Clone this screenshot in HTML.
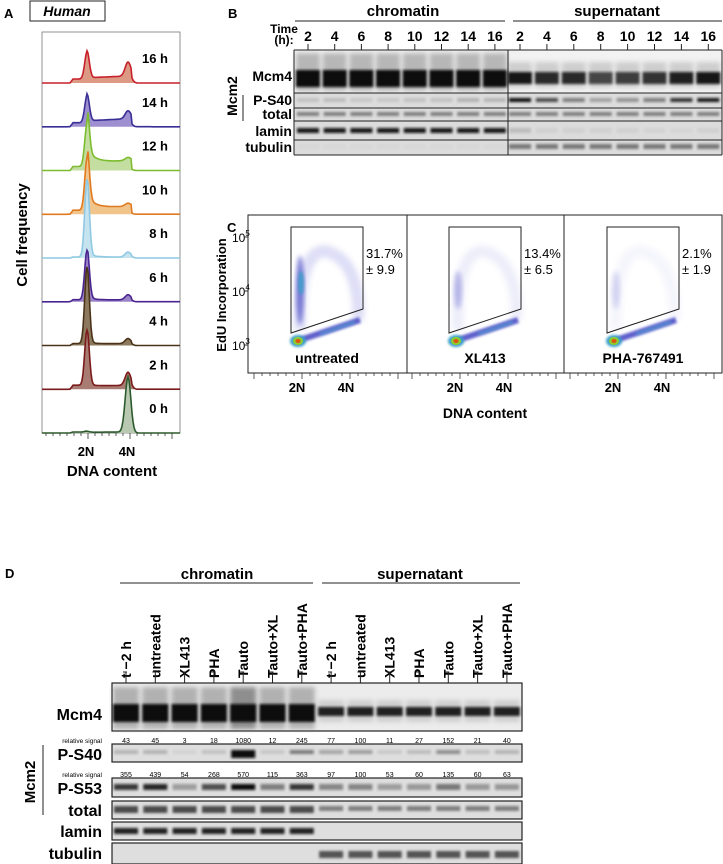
<!DOCTYPE html>
<html><head><meta charset="utf-8"><style>
html,body{margin:0;padding:0;background:#fff;}
svg{display:block;font-family:"Liberation Sans",Arial,sans-serif;}
</style></head><body>
<svg id="fig" width="723" height="864" viewBox="0 0 723 864" xmlns="http://www.w3.org/2000/svg">
<defs>
<filter id="b1" x="-20%" y="-60%" width="140%" height="220%"><feGaussianBlur stdDeviation="1.2"/></filter>
<filter id="b2" x="-30%" y="-60%" width="160%" height="220%"><feGaussianBlur stdDeviation="2.5"/></filter>
<filter id="b3" x="-50%" y="-50%" width="200%" height="200%"><feGaussianBlur stdDeviation="3"/></filter>
</defs>
<!-- Panel A -->
<g id="panelA">
<text x="4" y="18" font-weight="bold" font-size="13">A</text>
<rect x="30" y="1" width="75" height="20" fill="none" stroke="#222" stroke-width="1"/>
<text x="67" y="16" font-weight="bold" font-style="italic" font-size="14" text-anchor="middle">Human</text>
<rect x="42" y="32" width="138" height="401" fill="none" stroke="#777" stroke-width="0.8"/>
<g id="histos"></g>
<g id="aticks"></g>
<text x="86" y="456" font-weight="bold" font-size="13" text-anchor="middle">2N</text>
<text x="127" y="456" font-weight="bold" font-size="13" text-anchor="middle">4N</text>
<text x="112" y="476" font-weight="bold" font-size="15" text-anchor="middle">DNA content</text>
<text transform="translate(27,235) rotate(-90)" font-weight="bold" font-size="15" text-anchor="middle">Cell frequency</text>
</g>
<!-- Panel B -->
<g id="panelB">
<text x="228" y="18" font-weight="bold" font-size="13">B</text>
<text x="403" y="16" font-weight="bold" font-size="15" text-anchor="middle">chromatin</text>
<line x1="295" y1="21" x2="505" y2="21" stroke="#222" stroke-width="1"/>
<text x="617" y="16" font-weight="bold" font-size="15" text-anchor="middle">supernatant</text>
<line x1="513" y1="21" x2="722" y2="21" stroke="#222" stroke-width="1"/>
<text x="284" y="33" font-weight="bold" font-size="12" text-anchor="middle">Time</text>
<text x="284" y="44" font-weight="bold" font-size="12" text-anchor="middle">(h):</text>
<g id="bLanes"></g>
<g id="bGel"></g>
<g font-weight="bold" font-size="14" text-anchor="end">
<text x="292" y="81">Mcm4</text>
<text x="292" y="105">P-S40</text>
<text x="292" y="119">total</text>
<text x="292" y="136">lamin</text>
<text x="292" y="152">tubulin</text>
</g>
<line x1="243" y1="95" x2="243" y2="121" stroke="#222" stroke-width="1"/>
<text transform="translate(237,96) rotate(-90)" font-weight="bold" font-size="14" text-anchor="middle">Mcm2</text>
</g>
<!-- Panel C -->
<g id="panelC">
<text x="227" y="232" font-weight="bold" font-size="13">C</text>
<rect x="248" y="215" width="474" height="158" fill="none" stroke="#222" stroke-width="1"/>
<line x1="407" y1="215" x2="407" y2="373" stroke="#222" stroke-width="1"/>
<line x1="564" y1="215" x2="564" y2="373" stroke="#222" stroke-width="1"/>
<g id="cPlots"></g>
<g id="cTicks"></g>
<text transform="translate(226,295) rotate(-90)" font-weight="bold" font-size="13" text-anchor="middle">EdU Incorporation</text>
<text x="485" y="418" font-weight="bold" font-size="14" text-anchor="middle">DNA content</text>
</g>
<!-- Panel D -->
<g id="panelD">
<text x="5" y="578" font-weight="bold" font-size="13">D</text>
<text x="217" y="579" font-weight="bold" font-size="15" text-anchor="middle">chromatin</text>
<line x1="120" y1="583" x2="313" y2="583" stroke="#222" stroke-width="1"/>
<text x="420" y="579" font-weight="bold" font-size="15" text-anchor="middle">supernatant</text>
<line x1="322" y1="583" x2="520" y2="583" stroke="#222" stroke-width="1"/>
<g id="dLanes"></g>
<g id="dGel"></g>
<g font-weight="bold" text-anchor="end">
<text x="102" y="720" font-size="16">Mcm4</text>
<text x="102" y="743" font-size="6.5" font-weight="normal">relative signal</text>
<text x="102" y="760" font-size="16">P-S40</text>
<text x="102" y="777" font-size="6.5" font-weight="normal">relative signal</text>
<text x="102" y="794" font-size="16">P-S53</text>
<text x="102" y="816" font-size="16">total</text>
<text x="102" y="837" font-size="16">lamin</text>
<text x="102" y="859" font-size="16">tubulin</text>
</g>
<line x1="43" y1="745" x2="43" y2="815" stroke="#222" stroke-width="1"/>
<text transform="translate(35,782) rotate(-90)" font-weight="bold" font-size="15" text-anchor="middle">Mcm2</text>
</g>
</svg>
<script>
// ===== Panel A data =====
const aRows = ["16 h","14 h","12 h","10 h","8 h","6 h","4 h","2 h","0 h"];
const aPeak2N = [27,27,42,51,78,50,77,56,1];
const aPeak4N = [14,8,3,3,5,5,5,13,55];
const aSLevel = [7,8,10,8,1,2,2,4,1];
const aTail = [0,0,14,12,3,3,2,2,0];
const aLine = ["#c8202a","#3a2f96","#7cbc2e","#e07a20","#8fc9e3","#4a2590","#4a3318","#7a1a1a","#2c5a2c"];
const aFill = ["#dc9a84","#9d8fd0","#c4dea2","#f1c48c","#c6e3f0","#9a84c8","#8d7a5e","#a87c72","#b9c9b1"];
// ===== Panel B data =====
const bTimes = ["2","4","6","8","10","12","14","16"];
const bChromS40 = [0.12,0.15,0.1,0.1,0.12,0.12,0.2,0.18];
const bSupS40 = [1.0,0.7,0.45,0.28,0.35,0.45,0.82,0.95];
const bSupMcm4 = [0.95,0.85,0.85,0.7,0.75,0.8,0.9,0.95];
const bSupLamin = [0.15,0.05,0.05,0.05,0.05,0.04,0.03,0.05];
// ===== Panel C data =====
const cNames = ["untreated","XL413","PHA-767491"];
const cPct = ["31.7%","13.4%","2.1%"];
const cSd = ["\u00b1 9.9","\u00b1 6.5","\u00b1 1.9"];
const cArmDensity = [0.9,0.45,0.25];
const cYTicks = ["5","4","3"];
// ===== Panel D data =====
const dLanes = ["t \u22122 h","untreated","XL413","PHA","Tauto","Tauto+XL","Tauto+PHA","t \u22122 h","untreated","XL413","PHA","Tauto","Tauto+XL","Tauto+PHA"];
const dRelS40 = [43,45,3,18,1080,12,245,77,100,11,27,152,21,40];
const dRelS53 = [355,439,54,268,570,115,363,97,100,53,60,135,60,63];

const NS="http://www.w3.org/2000/svg";
function mk(tag, parent, attrs){const e=document.createElementNS(NS,tag);for(const k in attrs)e.setAttribute(k,attrs[k]);parent.appendChild(e);return e;}

// ---- Panel A ----
const histos=document.getElementById('histos');
const ax2N=87, ax4N=128, axL=42, axR=180, baseTop=83, rowGap=43.75;
for(let r=0;r<aRows.length;r++){
  const base=baseTop+r*rowGap;
  let pts=[];
  for(let x=axL;x<=axR;x+=1){
    let y=0;
    y+=aPeak2N[r]*Math.exp(-Math.pow((x-ax2N)/3.2,2));
    if(x>ax2N) y+=aTail[r]*Math.exp(-(x-ax2N)/8);
    if(x>=ax2N && x<=ax4N+3) y+=aSLevel[r]*(0.75+0.25*(x-ax2N)/(ax4N-ax2N));
    y+=aPeak4N[r]*Math.exp(-Math.pow((x-ax4N)/4,2));
    if(x>70 && x<ax2N) y+=Math.min(aSLevel[r],4)*Math.min(1,(x-70)/3);
    pts.push([x,base-y]);
  }
  const d='M'+pts.map(p=>p[0]+','+p[1].toFixed(1)).join(' L');
  const g=mk('g',histos,{});
  
  
  mk('path',g,{d:d+` L${axR},${base} L${axL},${base} Z`,fill:aFill[r],stroke:'none'});
  mk('path',g,{d:d,fill:'none',stroke:aLine[r],'stroke-width':1.6});
  const t=mk('text',g,{x:168,y:base-20,'font-weight':'bold','font-size':13,'text-anchor':'end'});
  t.textContent=aRows[r];
}
const aticks=document.getElementById('aticks');
for(let x=46;x<=178;x+=7){mk('line',aticks,{x1:x,y1:433,x2:x,y2:(x===88||x===130||x===172)?439:436,stroke:'#333','stroke-width':0.8});}

// ---- Panel B ----
const bL=document.getElementById('bLanes'), bG=document.getElementById('bGel');
function bx(i,sup){return sup?520+26.9*i:308+26.7*i;}
for(let s=0;s<2;s++){for(let i=0;i<bTimes.length;i++){
  const x=bx(i,s);
  const t=mk('text',bL,{x:x,y:41,'font-weight':'bold','font-size':14,'text-anchor':'middle'});
  
  
  t.textContent=bTimes[i];
  mk('line',bL,{x1:x,y1:44,x2:x,y2:50,stroke:'#222','stroke-width':1});
}}
mk('rect',bG,{x:294,y:50,width:428,height:105,fill:'#dcdcdc'});
mk('rect',bG,{x:294,y:50,width:428,height:43,fill:'#f2f2f2'});
for(let s=0;s<2;s++){for(let i=0;i<8;i++){
  const x=bx(i,s);
  if(!s){
    mk('rect',bG,{x:x-12,y:53,width:24,height:38,fill:'#888',opacity:0.55,filter:'url(#b2)'});
    mk('rect',bG,{x:x-12,y:70,width:24,height:17,fill:'#111',filter:'url(#b1)'});
  } else {
    mk('rect',bG,{x:x-12,y:62,width:24,height:26,fill:'#999',opacity:0.4,filter:'url(#b2)'});
    mk('rect',bG,{x:x-12,y:72,width:24,height:12,fill:'#111',opacity:bSupMcm4[i],filter:'url(#b1)'});
  }
  const v=s?bSupS40[i]:bChromS40[i];
  mk('rect',bG,{x:x-11,y:98,width:22,height:4,fill:'#111',opacity:v,filter:'url(#b1)'});
  mk('rect',bG,{x:x-11,y:112,width:22,height:4,fill:'#444',opacity:0.6,filter:'url(#b1)'});
  mk('rect',bG,{x:x-11,y:128,width:22,height:5,fill:'#111',opacity:s?bSupLamin[i]:0.95,filter:'url(#b1)'});
  mk('rect',bG,{x:x-11,y:144,width:22,height:5,fill:'#444',opacity:s?0.65:0.03,filter:'url(#b1)'});
}}
for(const y of [50,93,108,121,140,155]) mk('line',bG,{x1:294,y1:y,x2:722,y2:y,stroke:'#222','stroke-width':1});
for(const x of [294,508,722]) mk('line',bG,{x1:x,y1:50,x2:x,y2:155,stroke:'#222','stroke-width':1});

// ---- Panel C ----
const cP=document.getElementById('cPlots'), cT=document.getElementById('cTicks');
for(let k=0;k<3;k++){
  const o=k*158;
  const g=mk('g',cP,{});
  
  
  const a=cArmDensity[k];
  mk('path',g,{d:`M${300+o},330 C${298+o},250 ${320+o},245 ${335+o},255 C${355+o},265 ${360+o},300 ${358+o},320`,fill:'none',stroke:'#4a4ad0','stroke-width':12,opacity:a*0.2,filter:'url(#b3)'});
  mk('ellipse',g,{cx:300+o,cy:290,rx:4,ry:38*Math.max(a,0.5),fill:'#3838c0',opacity:a*0.7,filter:'url(#b2)'});
  if(k===0) mk('ellipse',g,{cx:301+o,cy:283,rx:3,ry:12,fill:'#3aa0c8',opacity:0.8,filter:'url(#b1)'});
  mk('path',g,{d:`M${300+o},340 L${360+o},320`,stroke:'#3838c0','stroke-width':6,opacity:0.8,filter:'url(#b1)'});
  mk('path',g,{d:`M${320+o},334 L${355+o},322`,stroke:'#4aa8d0','stroke-width':3,opacity:0.6,filter:'url(#b1)'});
  mk('ellipse',g,{cx:298+o,cy:341,rx:8,ry:6,fill:'#3aa0c8',filter:'url(#b1)'});
  mk('ellipse',g,{cx:298+o,cy:341,rx:5,ry:4,fill:'#8ccc30'});
  mk('ellipse',g,{cx:298+o,cy:341,rx:2.5,ry:2,fill:'#e05010'});
  mk('path',g,{d:`M${291+o},227 L${363+o},227 L${363+o},309 L${291+o},333 Z`,fill:'none',stroke:'#222','stroke-width':1});
  let t=mk('text',g,{x:366+o,y:258,'font-size':13});t.textContent=cPct[k];
  t=mk('text',g,{x:366+o,y:274,'font-size':13});t.textContent=cSd[k];
  t=mk('text',g,{x:327+o,y:363,'font-weight':'bold','font-size':14,'text-anchor':'middle'});t.textContent=cNames[k];
  t=mk('text',cT,{x:297+o,y:392,'font-weight':'bold','font-size':13,'text-anchor':'middle'});t.textContent='2N';
  t=mk('text',cT,{x:346+o,y:392,'font-weight':'bold','font-size':13,'text-anchor':'middle'});t.textContent='4N';
  for(let x=254+o;x<404+o;x+=8) mk('line',cT,{x1:x,y1:373,x2:x,y2:(x-254-o)%48===0?379:376,stroke:'#333','stroke-width':0.8});
}
for(let i=0;i<cYTicks.length;i++){
  const y=237+i*54;
  const t=mk('text',cT,{x:232,y:y+5,'font-size':12});t.textContent='10';
  const s=mk('tspan',t,{dy:-6,'font-size':8});s.textContent=cYTicks[i];
  mk('line',cT,{x1:244,y1:y,x2:248,y2:y,stroke:'#333'});
}

// ---- Panel D ----
const dL=document.getElementById('dLanes'), dG=document.getElementById('dGel');
function dx(i){return 126+29.3*i;}
for(let i=0;i<dLanes.length;i++){
  const x=dx(i);
  const t=mk('text',dL,{transform:`translate(${x+5},678) rotate(-90)`,'font-weight':'bold','font-size':14});
  
  
  t.textContent=dLanes[i];
  mk('line',dL,{x1:x,y1:672,x2:x,y2:683,stroke:'#222','stroke-width':1});
  mk('line',dL,{x1:x-3,y1:672,x2:x+1,y2:672,stroke:'#222','stroke-width':1});
}
const dR=522;
function box(y,h,fill){mk('rect',dG,{x:112,y:y,width:dR-112,height:h,fill:fill||'#dedede',stroke:'#222','stroke-width':1.2});}
box(683,48,'#ececec'); box(744,18); box(778,19); box(801,18); box(822,18); box(843,21);
for(let i=0;i<14;i++){
  const x=dx(i), chrom=i<7;
  if(chrom){
    mk('rect',dG,{x:x-13,y:687,width:26,height:42,fill:'#777',opacity:i===4?0.8:0.5,filter:'url(#b2)'});
    mk('rect',dG,{x:x-13,y:704,width:26,height:18,fill:'#111',filter:'url(#b1)'});
  } else {
    mk('rect',dG,{x:x-13,y:700,width:26,height:22,fill:'#999',opacity:0.35,filter:'url(#b2)'});
    mk('rect',dG,{x:x-13,y:707,width:26,height:9,fill:'#111',opacity:0.9,filter:'url(#b1)'});
  }
  let t=mk('text',dG,{x:x,y:743,'font-size':7,'text-anchor':'middle'});t.textContent=dRelS40[i];
  t=mk('text',dG,{x:x,y:777,'font-size':7,'text-anchor':'middle'});t.textContent=dRelS53[i];
  const o40=Math.min(1,Math.sqrt(dRelS40[i]/1080));
  mk('rect',dG,{x:x-12,y:750,width:24,height:i===4?8:4,fill:'#111',opacity:o40,filter:'url(#b1)'});
  const o53=Math.min(1,Math.sqrt(dRelS53[i]/570));
  mk('rect',dG,{x:x-12,y:784,width:24,height:6,fill:'#111',opacity:o53,filter:'url(#b1)'});
  mk('rect',dG,{x:x-12,y:806,width:24,height:chrom?7:5,fill:'#333',opacity:chrom?0.85:0.55,filter:'url(#b1)'});
  mk('rect',dG,{x:x-12,y:828,width:24,height:6,fill:'#111',opacity:chrom?0.9:0,filter:'url(#b1)'});
  mk('rect',dG,{x:x-12,y:851,width:24,height:7,fill:'#333',opacity:chrom?0:0.8,filter:'url(#b1)'});
}
</script>
</body></html>
